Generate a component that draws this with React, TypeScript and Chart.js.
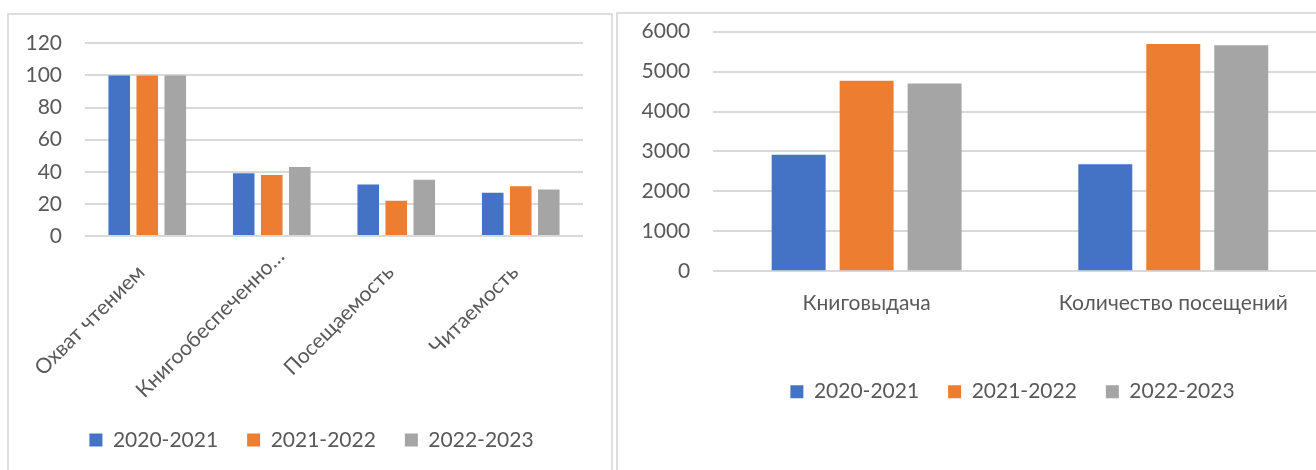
import React, { useEffect, useRef } from "react";
import { Chart, registerables } from "chart.js";

Chart.register(...registerables);

// ---- Data ----
const seriesNames = ["2020-2021", "2021-2022", "2022-2023"];
const seriesColors = ["#4472C4", "#ED7D31", "#A5A5A5"];

const leftCategories = ["Охват чтением", "Книгообеспеченно…", "Посещаемость", "Читаемость"];
const left2020 = [100, 39, 32, 27];
const left2021 = [100, 38, 22, 31];
const left2022 = [100, 43, 35, 29];
const leftYMax = 120;
const leftYStep = 20;

const rightCategories = ["Книговыдача", "Количество посещений"];
const right2020 = [2920, 2680];
const right2021 = [4770, 5690];
const right2022 = [4700, 5660];
const rightYMax = 6000;
const rightYStep = 1000;

const TEXT = "#595959";
const GRID = "#d9d9d9";
const FONT = { family: 'Lato, "Noto Sans", sans-serif', size: 21 };

function makeDatasets(values: number[][], cp: number, bp: number) {
  return values.map((v, i) => ({
    label: seriesNames[i],
    data: v,
    backgroundColor: seriesColors[i],
    borderWidth: 0,
    categoryPercentage: cp,
    barPercentage: bp,
  }));
}

function legendOpts() {
  return {
    position: "bottom" as const,
    labels: {
      boxWidth: 13,
      boxHeight: 13,
      padding: 29,
      color: TEXT,
      font: FONT,
    },
  };
}

// lets the rotated category labels run past the axis box (they are clipped to it otherwise),
// and nudges the truncated long label along its baseline as the source layout does
const labelTweaks = {
  id: "labelTweaks",
  afterLayout(chart: any) {
    const s = chart.scales.x;
    if (s) s.bottom = s.bottom + 60;
  },
  beforeDraw(chart: any) {
    const s = chart.scales.x;
    if (!s || typeof s._computeLabelItems !== "function") return;
    const items = s._computeLabelItems(chart.chartArea);
    const it = items && items[1];
    if (it && it.options && Array.isArray(it.options.translation)) {
      it.options.translation = [it.options.translation[0] + 15, it.options.translation[1] - 16];
    }
    s._labelItems = items;
  },
};

function yAxis(max: number, step: number, width: number) {
  return {
    min: 0,
    max,
    ticks: {
      stepSize: step,
      padding: 3,
      color: TEXT,
      font: FONT,
      callback: (v: any) => String(v),
    },
    grid: { color: GRID, lineWidth: 2, drawTicks: true, tickLength: 20, tickColor: "rgba(0,0,0,0)" },
    border: { display: false },
    afterFit: (s: any) => {
      s.width = width;
    },
  };
}

function spacerAxis(width: number) {
  return {
    position: "right",
    display: true,
    grid: { display: false, drawTicks: false },
    border: { display: false },
    ticks: { display: false },
    afterFit: (s: any) => {
      s.width = width;
    },
  };
}

function leftConfig(): any {
  return {
    type: "bar",
    data: {
      labels: leftCategories,
      datasets: makeDatasets([left2020, left2021, left2022], 0.675, 0.77),
    },
    plugins: [labelTweaks],
    options: {
      animation: false,
      responsive: true,
      maintainAspectRatio: false,
      layout: { padding: { left: 10, right: 7, top: 27.3, bottom: 5.5 } },
      plugins: { legend: legendOpts(), tooltip: { enabled: false } },
      scales: {
        x: {
          grid: { display: false, drawTicks: false },
          border: { display: false },
          ticks: {
            autoSkip: false,
            minRotation: 45,
            maxRotation: 45,
            padding: 24,
            labelOffset: -6,
            color: TEXT,
            font: FONT,
          },
          afterFit: (s: any) => {
            s.height = 164.5;
          },
        },
        y: yAxis(leftYMax, leftYStep, 65),
        yPad: spacerAxis(20),
      },
    },
  };
}

function rightConfig(): any {
  return {
    type: "bar",
    data: {
      labels: rightCategories,
      datasets: makeDatasets([right2020, right2021, right2022], 0.665, 0.794),
    },
    options: {
      animation: false,
      responsive: true,
      maintainAspectRatio: false,
      layout: { padding: { left: 10, right: 23, top: 16.7, bottom: 42.8 } },
      plugins: { legend: legendOpts(), tooltip: { enabled: false } },
      scales: {
        x: {
          grid: { display: false, drawTicks: false },
          border: { display: false },
          ticks: {
            autoSkip: false,
            minRotation: 0,
            maxRotation: 0,
            padding: 19,
            color: TEXT,
            font: FONT,
          },
          afterFit: (s: any) => {
            s.height = 81;
          },
        },
        y: yAxis(rightYMax, rightYStep, 84.3),
        yPad: spacerAxis(69.4),
      },
    },
  };
}

function ChartBox({ box, config }: { box: React.CSSProperties; config: () => any }) {
  const ref = useRef<HTMLCanvasElement | null>(null);
  useEffect(() => {
    if (!ref.current) return;
    const chart = new Chart(ref.current, config());
    return () => chart.destroy();
  }, []);
  return (
    <div style={{ position: "absolute", ...box }}>
      <canvas ref={ref} />
    </div>
  );
}

export default function App() {
  return (
    <div
      style={{
        position: "fixed",
        left: 0,
        top: 0,
        width: 1316,
        height: 470,
        overflow: "hidden",
        background: "#ffffff",
      }}
    >
      <div
        style={{
          position: "absolute",
          left: 7,
          top: 13,
          width: 602,
          height: 500,
          border: "2px solid #dedede",
        }}
      />
      <div
        style={{
          position: "absolute",
          left: 616,
          top: 12,
          width: 800,
          height: 500,
          border: "2px solid #dedede",
        }}
      />
      <ChartBox box={{ left: 10, top: 16, width: 600, height: 450 }} config={leftConfig} />
      <ChartBox box={{ left: 619, top: 15, width: 800, height: 440 }} config={rightConfig} />
    </div>
  );
}
